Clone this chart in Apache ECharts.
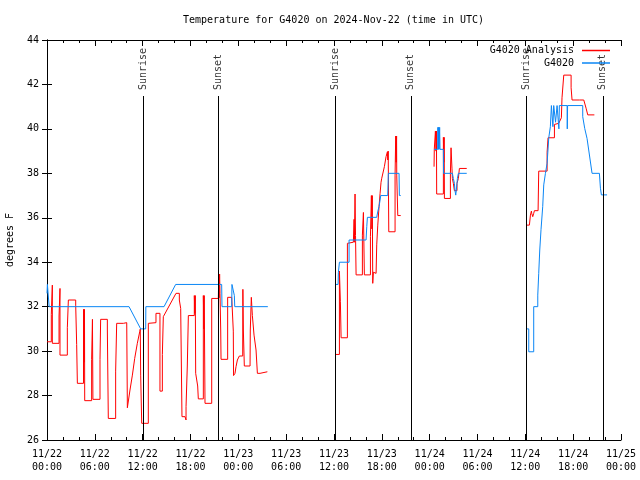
<!DOCTYPE html>
<html>
<head>
<meta charset="utf-8">
<script src="https://cdn.jsdelivr.net/npm/echarts@6/dist/echarts.min.js"></script>
<style>html,body{margin:0;padding:0;background:#fff}#c{width:640px;height:480px}</style>
</head>
<body>
<div id="c"></div>
<script>
// Time is in hours since 2024-11-22 00:00 UTC
const tickLabels = ["11/22\n00:00","11/22\n06:00","11/22\n12:00","11/22\n18:00","11/23\n00:00","11/23\n06:00","11/23\n12:00","11/23\n18:00","11/24\n00:00","11/24\n06:00","11/24\n12:00","11/24\n18:00","11/25\n00:00"];
const sunriseHours = [12.08, 36.17, 60.13];
const sunsetHours = [21.49, 45.63, 69.72];

// G4020 Analysis (red)
const redDay1 = [[0,30.42],[0.54,30.42],[0.54,31.65],[0.67,32.97],[0.67,30.35],[1.51,30.35],[1.51,31.58],[1.63,32.82],[1.63,29.82],[2.55,29.82],[2.55,31.05],[2.68,32.3],[3.60,32.3],[3.60,32.07],[3.72,30.3],[3.81,28.55],[4.58,28.55],[4.58,31.88],[4.66,29.5],[4.70,31.88],[4.73,27.77],[5.60,27.77],[5.60,29.63],[5.70,31.43],[5.76,27.83],[6.65,27.83],[6.65,29.63],[6.73,31.43],[7.57,31.43],[7.57,30.95],[7.69,26.97],[8.61,26.97],[8.61,29.1],[8.74,31.25],[9.58,31.25],[10.0,31.28],[10.08,27.45],[10.41,28.25],[10.71,28.92],[11.0,29.67],[11.33,30.35],[11.63,30.87],[11.70,30.99],[11.75,28.92],[11.88,26.75],[12.71,26.75],[12.71,31.25],[13.67,31.28],[13.67,31.7],[14.17,31.7],[14.17,28.2],[14.47,28.2],[14.47,29.85],[14.59,31.55],[16.18,32.6],[16.6,32.6],[16.6,32.3],[16.77,31.92],[16.93,27.05],[17.31,27.05],[17.44,26.9],[17.44,27.5],[17.6,29.33],[17.73,31.6],[18.48,31.6],[18.48,32.5],[18.55,31.7],[18.6,32.5],[18.65,29.0],[18.9,28.43],[18.98,27.85],[19.61,27.85],[19.61,32.5],[19.68,31.0],[19.72,32.5],[19.82,27.65],[20.66,27.65],[20.66,32.37],[21.49,32.37],[21.55,33.47],[21.6,32.4],[21.65,33.47],[21.7,32.6],[21.79,30.95],[21.83,29.63],[22.66,29.63],[22.66,32.42],[23.17,32.42],[23.2,32.5],[23.35,32.5],[23.37,30.9],[23.4,28.9],[23.58,29.0],[23.71,29.3],[23.88,29.6],[24.13,29.78],[24.55,29.78],[24.57,32.78],[24.63,30.95],[24.75,29.33],[25.47,29.33],[25.5,30.95],[25.63,32.42],[25.76,31.6],[25.97,30.72],[26.22,30.05],[26.39,29.0],[26.72,29.0],[26.8,29.04],[26.93,29.07],[27.64,29.07]];
const redDay2 = [[36.17,29.85],[36.68,29.85],[36.68,33.6],[36.8,32.22],[36.89,30.6],[37.68,30.6],[37.68,34.85],[37.81,34.9],[38.43,34.9],[38.52,35.93],[38.56,34.9],[38.64,37.07],[38.7,35.2],[38.77,33.43],[39.56,33.43],[39.56,35.22],[39.69,36.24],[39.81,33.43],[40.57,33.43],[40.57,35.15],[40.69,37.0],[40.75,35.5],[40.8,37.0],[40.86,33.05],[40.94,33.55],[41.15,33.58],[41.28,33.5],[41.36,34.78],[41.49,35.67],[41.65,36.5],[41.78,37.1],[41.9,37.6],[41.99,37.78],[42.2,37.83],[42.32,38.3],[42.53,38.75],[42.7,38.97],[42.75,38.6],[42.8,39.0],[42.87,35.37],[43.66,35.37],[43.66,37.92],[43.74,39.68],[43.8,38.5],[43.85,39.68],[43.87,37.92],[44.0,36.1],[44.37,36.1]];
const redDay3a = [[48.55,38.3],[48.58,39.08],[48.68,39.08],[48.72,39.9],[48.8,39.0],[48.85,39.9],[48.88,37.07],[49.72,37.07],[49.72,39.62],[49.78,38.5],[49.82,39.62],[49.85,36.87],[50.6,36.87],[50.6,38.0],[50.68,39.15],[50.8,38.2],[50.85,37.77],[50.97,37.55],[51.1,37.22],[51.43,37.22],[51.43,37.55],[51.6,37.77],[51.73,38.22],[52.65,38.22]];
const redDay3b = [[60.09,35.67],[60.51,35.67],[60.51,35.75],[60.64,36.12],[60.76,36.3],[60.8,36.2],[60.85,36.2],[60.93,36.05],[61.05,36.2],[61.14,36.32],[61.6,36.32],[61.68,38.1],[62.73,38.1],[62.73,38.95],[62.85,39.6],[63.65,39.6],[63.65,40.2],[64.19,40.25],[64.52,40.5],[64.6,41.4],[64.69,41.4],[64.82,42.42],[65.74,42.42],[65.74,41.85],[65.86,41.3],[66.78,41.3],[66.8,41.35],[67.03,41.38],[67.33,41.3],[67.62,40.93],[67.83,40.63],[68.66,40.63]];

// G4020 (blue)
const blueDay1 = [[0,32.6],[0.05,33.0],[0.25,33.0],[0.27,32.0],[10.29,32.0],[11.75,31.0],[12.38,31.0],[12.4,32.0],[14.68,32.0],[16.14,33.0],[21.91,33.0],[21.95,32.0],[23.17,32.0],[23.2,33.0],[23.45,33.0],[23.5,32.5],[23.55,32.0],[27.7,32.0]];
const blueDay2 = [[36.17,33.0],[36.51,33.0],[36.55,33.53],[36.68,34.0],[37.89,34.0],[37.89,35.0],[40.02,35.0],[40.11,35.6],[40.19,36.02],[41.36,36.02],[41.5,36.3],[41.65,36.5],[41.78,36.8],[41.86,37.0],[42.74,37.0],[42.82,38.0],[44.16,38.0],[44.2,37.0],[44.37,37.0]];
const blueDay3a = [[48.55,39.08],[49.01,39.08],[49.03,40.07],[49.08,39.08],[49.12,40.07],[49.18,39.08],[49.25,40.07],[49.3,39.08],[49.72,39.08],[49.74,38.0],[50.85,38.0],[50.97,37.77],[51.1,37.55],[51.18,37.22],[51.27,37.02],[51.39,37.02],[51.43,37.55],[51.48,37.77],[51.6,38.0],[52.65,38.0]];
const blueDay3b = [[60.09,31.0],[60.43,31.0],[60.43,29.97],[61.05,29.97],[61.05,32.0],[61.56,32.0],[61.56,32.52],[61.68,33.5],[61.81,34.55],[61.97,35.48],[62.18,36.5],[62.31,37.48],[62.52,38.0],[62.73,38.45],[62.94,39.6],[63.14,40.1],[63.27,41.05],[63.44,41.05],[63.46,40.1],[63.56,41.05],[63.77,41.05],[63.79,40.3],[63.98,41.05],[64.19,41.05],[64.21,40.0],[64.27,41.05],[65.24,41.05],[65.26,40.0],[65.3,41.05],[67.2,41.05],[67.2,40.55],[67.45,40.02],[67.74,39.57],[67.95,39.05],[68.37,38.0],[69.29,38.0],[69.42,37.33],[69.54,37.03],[70.25,37.03]];

function joinSegments(segs) {
  const out = [];
  segs.forEach((s, i) => {
    if (i > 0) out.push([s[0][0] - 0.01, null]);
    s.forEach(p => out.push(p));
  });
  return out;
}

const FONT = 'DejaVu Sans Mono';
const LINE_TOP = 41.48;   // top of sunrise/sunset lines (style)
const LABEL_Y = 41.75;    // anchor of rotated labels (style)

const chart = echarts.init(document.getElementById('c'), null, {renderer: 'canvas'});

const markers = [];
sunriseHours.forEach(t => markers.push({name: 'Sunrise', value: [t, LABEL_Y]}));
sunsetHours.forEach(t => markers.push({name: 'Sunset', value: [t, LABEL_Y]}));
const markLines = sunriseHours.concat(sunsetHours).map(t => [{coord: [t, 26]}, {coord: [t, LINE_TOP]}]);

const xBase = {
  type: 'value', min: 0, max: 72, interval: 6,
  axisLine: {show: true, lineStyle: {color: '#000', width: 1}},
  axisTick: {show: true, inside: true, length: 6, lineStyle: {color: '#000'}},
  minorTick: {show: true, splitNumber: 3, length: 3, lineStyle: {color: '#000'}},
  splitLine: {show: false}, minorSplitLine: {show: false}
};
const yBase = {
  type: 'value', min: 26, max: 44, interval: 2,
  axisLine: {show: true, lineStyle: {color: '#000', width: 1}},
  axisTick: {show: true, inside: true, length: 5, lineStyle: {color: '#000'}},
  splitLine: {show: false}
};

chart.setOption({
  animation: false,
  backgroundColor: '#fff',
  title: {
    text: 'Temperature for G4020 on 2024-Nov-22 (time in UTC)',
    left: 183, top: 15.5, padding: 0,
    textStyle: {fontFamily: FONT, fontSize: 10, fontWeight: 'normal', color: '#000'}
  },
  legend: [
    {data: ['G4020 Analysis'], right: 30, top: 44.5, padding: 0, align: 'right', selectedMode: false,
     itemWidth: 28, itemHeight: 1.5, icon: 'rect',
     textStyle: {fontFamily: FONT, fontSize: 10, color: '#000', lineHeight: 12, padding: [0, 3, 0, 0]}},
    {data: ['G4020'], right: 30, top: 57, padding: 0, align: 'right', selectedMode: false,
     itemWidth: 28, itemHeight: 1.5, icon: 'rect',
     textStyle: {fontFamily: FONT, fontSize: 10, color: '#000', lineHeight: 12, padding: [0, 3, 0, 0]}}
  ],
  grid: {left: 47, right: 19, top: 40, bottom: 40, containLabel: false, outerBoundsMode: 'none'},
  xAxis: [
    Object.assign({}, xBase, {position: 'bottom',
      axisLabel: {show: true, margin: 8, color: '#000', fontFamily: FONT, fontSize: 10, lineHeight: 13,
        formatter: v => tickLabels[Math.round(v / 6)] || ''}}),
    Object.assign({}, xBase, {position: 'top', axisLabel: {show: false}})
  ],
  yAxis: [
    Object.assign({}, yBase, {position: 'left',
      name: 'degrees F', nameLocation: 'middle', nameGap: 32, nameRotate: 90,
      nameTextStyle: {fontFamily: FONT, fontSize: 10, color: '#000'},
      axisLabel: {show: true, margin: 8, color: '#000', fontFamily: FONT, fontSize: 10}}),
    Object.assign({}, yBase, {position: 'right', axisLabel: {show: false}})
  ],
  series: [
    {name: 'G4020 Analysis', type: 'line', xAxisIndex: 0, yAxisIndex: 0,
     data: joinSegments([redDay1, redDay2, redDay3a, redDay3b]),
     showSymbol: false, symbol: 'none', connectNulls: false,
     lineStyle: {color: '#ff0000', width: 1}, itemStyle: {color: '#ff0000'}},
    {name: 'G4020', type: 'line', xAxisIndex: 0, yAxisIndex: 0,
     data: joinSegments([blueDay1, blueDay2, blueDay3a, blueDay3b]),
     showSymbol: false, symbol: 'none', connectNulls: false,
     lineStyle: {color: '#0a86f5', width: 1}, itemStyle: {color: '#0a86f5'}},
    {name: 'sun', type: 'scatter', xAxisIndex: 0, yAxisIndex: 0,
     data: markers, symbolSize: 1, silent: true,
     itemStyle: {color: 'rgba(0,0,0,0)'},
     label: {show: true, formatter: '{b}', position: 'inside', rotate: 90, align: 'left', verticalAlign: 'middle',
       color: '#000', fontFamily: FONT, fontSize: 10},
     markLine: {silent: true, symbol: ['none', 'none'], label: {show: false},
       lineStyle: {color: '#000', width: 1, type: 'solid'}, data: markLines}}
  ]
});
</script>
</body>
</html>
